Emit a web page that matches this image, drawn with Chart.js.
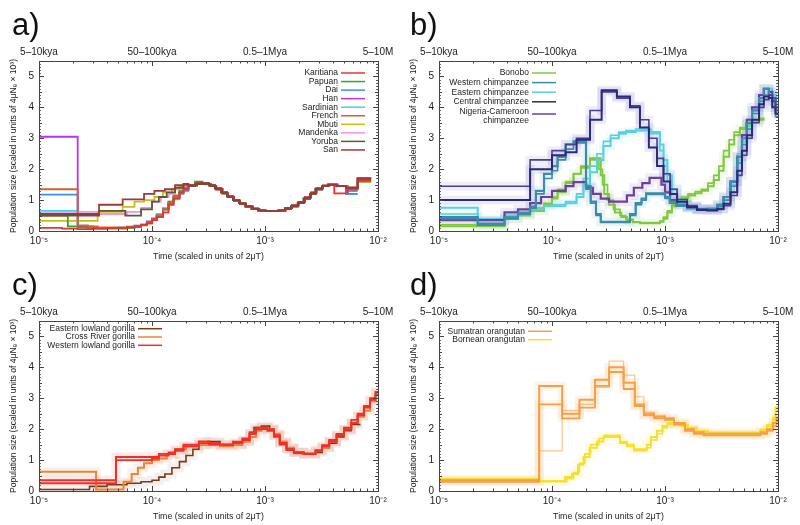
<!DOCTYPE html>
<html><head><meta charset="utf-8">
<script src="https://cdn.jsdelivr.net/npm/chart.js@4"></script>
<style>
html,body{margin:0;padding:0;background:#fff;}
#wrap{position:relative;width:800px;height:525px;overflow:hidden;}
canvas{position:absolute;}
</style></head><body>
<div id="wrap">
<canvas id="ca" width="400" height="262" style="left:0;top:0"></canvas>
<canvas id="cb" width="400" height="262" style="left:400px;top:0"></canvas>
<canvas id="cc" width="400" height="265" style="left:0;top:260px"></canvas>
<canvas id="cd" width="400" height="265" style="left:400px;top:260px"></canvas>
</div>
<script>
// ---------- axis labels ----------
const decades = [1e-5, 1e-4, 1e-3, 1e-2];
const bottomLabels = ['10⁻⁵', '10⁻⁴', '10⁻³', '10⁻²'];
const topLabels = ['5–10kya', '50–100kya', '0.5–1Mya', '5–10M'];
const yTicks = [0, 1, 2, 3, 4, 5];
const yTitle = 'Population size (scaled in units of 4μNₑ × 10³)';
const xTitle = 'Time (scaled in units of 2μT)';

// ---------- panel a: humans ([time, size]) ----------
const humanTail = [[2.1e-4,1.45],[2.4e-4,1.52],[2.8e-4,1.55],[3.2e-4,1.48],[3.6e-4,1.38],[4.1e-4,1.25],[4.6e-4,1.12],[5.2e-4,1.0],[5.9e-4,0.9],[6.7e-4,0.8],[7.6e-4,0.72],[8.7e-4,0.67],[1e-3,0.65],[1.15e-3,0.64],[1.3e-3,0.66],[1.5e-3,0.72],[1.7e-3,0.8],[1.95e-3,0.9],[2.2e-3,1.05],[2.5e-3,1.2],[2.8e-3,1.35],[3.2e-3,1.45],[3.6e-3,1.5]];
const humanTailB = [[2.1e-4,1.48],[2.5e-4,1.55],[2.9e-4,1.52],[3.3e-4,1.45],[3.7e-4,1.35],[4.2e-4,1.22],[4.7e-4,1.1],[5.3e-4,0.98],[6e-4,0.88],[6.8e-4,0.79],[7.8e-4,0.71],[8.9e-4,0.66],[1.02e-3,0.64],[1.18e-3,0.64],[1.33e-3,0.67],[1.52e-3,0.74],[1.73e-3,0.83],[1.98e-3,0.94],[2.25e-3,1.09],[2.55e-3,1.24],[2.85e-3,1.38],[3.25e-3,1.47],[3.7e-3,1.5]];
const endHigh = [[4.3e-3,1.45],[5.2e-3,1.4],[6.6e-3,1.7],[8.7e-3,1.7]];
const endRed = [[4.1e-3,1.22],[5.4e-3,1.38],[6.6e-3,1.65],[8.7e-3,1.65]];
const endBlue = [[4.4e-3,1.45],[5.2e-3,1.2],[6.6e-3,1.2]];
const endPurple = [[4.4e-3,1.45],[5.2e-3,1.3],[6.6e-3,1.3]];
const endMid = [[4.3e-3,1.45],[5.4e-3,1.35],[6.6e-3,1.6],[8.7e-3,1.6]];

const karitiana = [[1e-5,0.1],[1.6e-5,0.08],[2.2e-5,0.06],[3e-5,0.08],[4e-5,0.1],[6e-5,0.12],[7e-5,0.15],[8e-5,0.2],[9e-5,0.25],[1e-4,0.35],[1.1e-4,0.45],[1.25e-4,0.6],[1.4e-4,0.85],[1.55e-4,1.05],[1.75e-4,1.25],[1.9e-4,1.35]];
const papuan = [[1e-5,0.5],[1.8e-5,0.15],[2.2e-5,0.12],[2.7e-5,0.08],[6e-5,0.1],[7e-5,0.13],[8e-5,0.18],[9e-5,0.25],[1e-4,0.35],[1.1e-4,0.5],[1.25e-4,0.7],[1.4e-4,0.95],[1.55e-4,1.15],[1.75e-4,1.3],[1.9e-4,1.45],[2.4e-4,1.6]];
const dai = [[1e-5,1.18],[2.2e-5,0.15],[2.7e-5,0.12],[3.3e-5,0.1],[4.5e-5,0.1],[6e-5,0.12],[7e-5,0.15],[8e-5,0.2],[9e-5,0.3],[1e-4,0.4],[1.1e-4,0.5],[1.25e-4,0.7],[1.4e-4,0.9],[1.55e-4,1.1],[1.75e-4,1.2],[1.9e-4,1.3]];
const han = [[1e-5,3.05],[2.2e-5,0.15],[3e-5,0.1],[4e-5,0.1],[5e-5,0.1],[6e-5,0.12],[7e-5,0.15],[8e-5,0.2],[9e-5,0.3],[1e-4,0.4],[1.1e-4,0.5],[1.25e-4,0.7],[1.4e-4,0.9],[1.55e-4,1.05],[1.75e-4,1.25],[1.9e-4,1.35]];
const sardinian = [[1e-5,0.65],[2.2e-5,0.15],[2.7e-5,0.12],[3.3e-5,0.1],[5e-5,0.12],[6e-5,0.15],[7e-5,0.18],[8e-5,0.22],[9e-5,0.3],[1e-4,0.4],[1.1e-4,0.55],[1.25e-4,0.75],[1.4e-4,0.95],[1.55e-4,1.1],[1.75e-4,1.25],[1.9e-4,1.35]];
const french = [[1e-5,1.35],[2.2e-5,0.18],[2.7e-5,0.15],[3.3e-5,0.12],[4.5e-5,0.12],[6e-5,0.13],[7e-5,0.16],[8e-5,0.2],[9e-5,0.28],[1e-4,0.38],[1.1e-4,0.5],[1.25e-4,0.7],[1.4e-4,0.9],[1.55e-4,1.1],[1.75e-4,1.25],[1.9e-4,1.4]];
const mbuti = [[1e-5,0.33],[3.3e-5,0.62],[5.5e-5,0.78],[7e-5,0.95],[8.5e-5,1.0],[1.05e-4,1.1],[1.25e-4,1.25],[1.5e-4,1.35],[1.75e-4,1.45],[1.9e-4,1.45]];
const mandenka = [[1e-5,0.62],[3.4e-5,0.55],[6e-5,0.62],[8e-5,0.75],[1e-4,0.95],[1.2e-4,1.1],[1.4e-4,1.2],[1.6e-4,1.35],[1.9e-4,1.45]];
const yoruba = [[1e-5,0.55],[3.4e-5,0.65],[5.8e-5,0.5],[8e-5,0.7],[1e-4,0.95],[1.15e-4,1.1],[1.35e-4,1.25],[1.6e-4,1.4],[1.9e-4,1.5]];
const san = [[1e-5,0.5],[3.4e-5,0.85],[5.5e-5,1.02],[8.5e-5,1.2],[1.05e-4,1.3],[1.3e-4,1.35],[1.6e-4,1.48],[1.9e-4,1.52]];

// ---------- panel b: chimpanzees & bonobos ----------
const bonobo1 = [[1e-5,0.15],[3.8e-5,0.4],[5e-5,0.5],[6.4e-5,0.65],[8.5e-5,0.85],[1.0e-4,1.05],[1.12e-4,1.25],[1.32e-4,1.55],[1.55e-4,1.85],[1.8e-4,2.05],[2.17e-4,2.35],[2.7e-4,1.8],[2.9e-4,1.2],[3.2e-4,0.85],[3.6e-4,0.6],[4.1e-4,0.45],[4.6e-4,0.35],[5.2e-4,0.28],[6e-4,0.25],[9e-4,0.3],[9.7e-4,0.4],[1.05e-3,0.6],[1.15e-3,0.8],[1.25e-3,0.95],[1.4e-3,1.05],[1.6e-3,1.15],[1.85e-3,1.22],[2.1e-3,1.3],[2.4e-3,1.45],[2.7e-3,1.65],[3.0e-3,1.95],[3.3e-3,2.4],[3.7e-3,2.8],[4.1e-3,3.1],[4.6e-3,3.3],[5.2e-3,3.45],[5.9e-3,3.55],[6.8e-3,3.6],[7.6e-3,3.6]];
const bonobo2 = [[1e-5,0.2],[3.8e-5,0.45],[5e-5,0.55],[6.4e-5,0.7],[8.5e-5,0.9],[1.0e-4,1.1],[1.12e-4,1.35],[1.32e-4,1.6],[1.55e-4,1.85],[1.8e-4,2.1],[2.17e-4,2.3],[2.6e-4,2.0],[2.8e-4,1.5],[3.1e-4,1.0],[3.5e-4,0.7],[4e-4,0.5],[4.5e-4,0.38],[5.2e-4,0.3],[6e-4,0.27],[9e-4,0.32],[9.7e-4,0.45],[1.05e-3,0.65],[1.15e-3,0.85],[1.25e-3,1.0],[1.4e-3,1.1],[1.6e-3,1.2],[1.85e-3,1.28],[2.1e-3,1.35],[2.4e-3,1.55],[2.7e-3,1.8],[3.0e-3,2.1],[3.3e-3,2.6],[3.7e-3,2.95],[4.1e-3,3.2],[4.6e-3,3.35],[5.2e-3,3.5],[5.9e-3,3.6],[6.8e-3,3.65],[7.6e-3,3.65]];
const western1 = [[1e-5,0.45],[2.2e-5,0.2],[3.8e-5,0.4],[5e-5,0.55],[6.4e-5,0.75],[7.2e-5,1.3],[8.5e-5,1.85],[1.0e-4,2.1],[1.12e-4,2.4],[1.32e-4,2.8],[1.55e-4,2.9],[2.0e-4,1.45],[2.2e-4,0.95],[2.45e-4,0.55],[2.7e-4,0.3],[4.9e-4,0.55],[5.5e-4,0.9],[6.2e-4,1.05],[6.8e-4,1.22],[1.0e-3,1.1],[1.1e-3,0.95],[1.25e-3,0.85],[1.57e-3,0.75],[1.92e-3,0.72],[2.36e-3,0.72],[2.9e-3,0.85],[3.3e-3,1.1],[3.8e-3,1.6],[4.36e-3,2.4],[4.8e-3,3.0],[5.3e-3,3.5],[5.9e-3,3.9],[6.8e-3,4.3],[7.5e-3,4.6],[8.3e-3,4.4],[8.9e-3,4.2],[9.5e-3,4.0],[1e-2,4.0]];
const western2 = [[1e-5,0.4],[2.2e-5,0.25],[3.8e-5,0.45],[5e-5,0.6],[6.4e-5,0.8],[7.2e-5,1.2],[8.5e-5,1.7],[1.0e-4,1.95],[1.12e-4,2.3],[1.32e-4,2.65],[1.55e-4,2.85],[2.0e-4,1.35],[2.2e-4,0.9],[2.45e-4,0.5],[2.7e-4,0.28],[4.9e-4,0.5],[5.5e-4,0.85],[6.2e-4,1.0],[6.8e-4,1.18],[1.0e-3,1.05],[1.1e-3,0.9],[1.25e-3,0.8],[1.57e-3,0.72],[1.92e-3,0.68],[2.36e-3,0.7],[2.9e-3,0.8],[3.3e-3,1.0],[3.8e-3,1.45],[4.36e-3,2.2],[4.8e-3,2.8],[5.3e-3,3.3],[5.9e-3,3.8],[6.8e-3,4.2],[7.5e-3,4.4],[8.3e-3,4.3],[8.9e-3,4.0],[9.5e-3,3.7],[1e-2,3.7]];
const eastern1 = [[1e-5,0.75],[2.2e-5,0.35],[3.8e-5,0.5],[5e-5,0.6],[6.4e-5,0.7],[8.5e-5,0.8],[1.0e-4,0.85],[1.32e-4,0.9],[1.65e-4,1.1],[1.9e-4,1.5],[2.17e-4,1.9],[2.5e-4,2.3],[2.85e-4,2.75],[3.3e-4,3.0],[3.9e-4,3.15],[4.5e-4,3.2],[5.5e-4,3.25],[7.5e-4,3.2],[9e-4,2.8],[9.7e-4,2.3],[1.05e-3,1.8],[1.15e-3,1.35],[1.28e-3,1.0],[1.57e-3,0.8],[1.92e-3,0.7],[2.36e-3,0.7],[2.9e-3,0.8],[3.3e-3,1.0],[3.8e-3,1.5],[4.36e-3,2.3],[4.8e-3,2.9],[5.3e-3,3.4],[5.9e-3,3.9],[6.8e-3,4.3],[7.5e-3,4.6],[8.3e-3,4.6],[8.9e-3,4.4],[9.5e-3,4.3],[1e-2,4.3]];
const eastern2 = [[1e-5,0.55],[2.2e-5,0.4],[3.8e-5,0.5],[5e-5,0.6],[6.4e-5,0.75],[8.5e-5,0.8],[1.0e-4,0.8],[1.32e-4,0.95],[1.65e-4,1.2],[1.9e-4,1.7],[2.17e-4,2.1],[2.5e-4,2.5],[2.85e-4,2.9],[3.3e-4,3.1],[3.9e-4,3.2],[4.5e-4,3.25],[5.5e-4,3.3],[7.5e-4,3.15],[9e-4,2.6],[9.7e-4,2.1],[1.05e-3,1.6],[1.15e-3,1.2],[1.28e-3,0.95],[1.57e-3,0.78],[1.92e-3,0.7],[2.36e-3,0.72],[2.9e-3,0.85],[3.3e-3,1.1],[3.8e-3,1.6],[4.36e-3,2.5],[4.8e-3,3.1],[5.3e-3,3.6],[5.9e-3,4.0],[6.8e-3,4.4],[7.5e-3,4.6],[8.3e-3,4.5],[8.9e-3,4.4],[9.5e-3,4.3],[1e-2,4.3]];
const central1 = [[1e-5,1.0],[6.4e-5,2.0],[1.0e-4,2.45],[1.32e-4,2.55],[1.65e-4,2.95],[2.17e-4,3.6],[2.75e-4,4.55],[3.75e-4,4.35],[4.9e-4,4.0],[6e-4,3.35],[7.2e-4,2.7],[8.5e-4,2.1],[9.7e-4,1.6],[1.11e-3,1.2],[1.28e-3,0.95],[1.57e-3,0.78],[1.92e-3,0.68],[2.36e-3,0.66],[2.9e-3,0.72],[3.3e-3,0.88],[3.8e-3,1.25],[4.36e-3,1.95],[4.8e-3,2.6],[5.3e-3,3.1],[5.9e-3,3.6],[6.8e-3,4.1],[7.5e-3,4.35],[8.3e-3,4.3],[8.9e-3,4.0],[9.5e-3,3.8],[1e-2,3.8]];
const central2 = [[1e-5,1.45],[6.4e-5,2.3],[1.0e-4,2.6],[1.32e-4,2.8],[1.65e-4,3.0],[2.17e-4,3.9],[2.75e-4,4.5],[3.75e-4,4.3],[4.9e-4,4.05],[6e-4,3.6],[7.2e-4,3.0],[8.5e-4,2.35],[9.7e-4,1.85],[1.11e-3,1.35],[1.28e-3,1.02],[1.57e-3,0.82],[1.92e-3,0.7],[2.36e-3,0.68],[2.9e-3,0.7],[3.3e-3,0.82],[3.8e-3,1.15],[4.36e-3,1.8],[4.8e-3,2.45],[5.3e-3,3.0],[5.9e-3,3.5],[6.8e-3,4.0],[7.5e-3,4.25],[8.3e-3,4.4],[8.9e-3,4.2],[9.5e-3,3.9],[1e-2,3.9]];
const nigeria1 = [[1e-5,0.35],[3.8e-5,0.6],[5e-5,0.7],[6.4e-5,0.9],[8e-5,1.1],[1.0e-4,1.3],[1.32e-4,1.45],[1.55e-4,1.58],[2.0e-4,1.4],[2.3e-4,1.2],[2.7e-4,1.05],[3.2e-4,0.95],[4.6e-4,1.15],[5.3e-4,1.4],[6.3e-4,1.55],[7.3e-4,1.72],[9.3e-4,1.5],[1.0e-3,1.25],[1.11e-3,1.0],[1.28e-3,0.85],[1.57e-3,0.75],[1.92e-3,0.7],[2.36e-3,0.72],[2.9e-3,0.85],[3.3e-3,1.1],[3.8e-3,1.6],[4.36e-3,2.4],[4.8e-3,3.1],[5.3e-3,3.6],[5.9e-3,4.0],[6.8e-3,4.4],[7.5e-3,4.6],[8.3e-3,4.5],[8.9e-3,4.3],[9.5e-3,4.0],[1e-2,4.0]];

// ---------- panel c: gorillas ----------
const eastLowland = [[1e-5,0.05],[2.8e-5,0.15],[4e-5,0.2],[6e-5,0.25],[8e-5,0.3],[1.0e-4,0.35],[1.15e-4,0.45],[1.3e-4,0.55],[1.5e-4,0.75],[1.75e-4,0.95],[2.0e-4,1.15],[2.3e-4,1.35],[2.6e-4,1.5],[3.1e-4,1.6],[4e-4,1.5],[5.2e-4,1.5],[6.3e-4,1.6],[7.3e-4,1.85],[8e-4,2.05],[9.3e-4,2.1],[1.1e-3,2.0],[1.2e-3,1.8],[1.35e-3,1.55],[1.55e-3,1.38],[1.8e-3,1.25],[2.2e-3,1.2],[2.8e-3,1.25],[3.2e-3,1.4],[3.7e-3,1.55],[4.3e-3,1.75],[5e-3,1.95],[5.8e-3,2.15],[7e-3,2.15]];
const crossRiver = [[1e-5,0.62],[3.2e-5,0.05],[5.6e-5,0.3],[6.6e-5,0.55],[7.5e-5,0.75],[8.5e-5,0.9],[1.0e-4,1.0],[1.15e-4,1.05],[1.35e-4,1.2],[1.6e-4,1.35],[2.0e-4,1.45],[2.6e-4,1.5],[3.2e-4,1.5],[4e-4,1.45],[5.2e-4,1.5],[6.3e-4,1.6],[7.3e-4,1.75],[8.3e-4,1.95],[9.3e-4,2.05],[1.05e-3,2.0],[1.2e-3,1.85],[1.35e-3,1.6],[1.55e-3,1.4],[1.8e-3,1.25],[2.2e-3,1.2],[2.8e-3,1.3],[3.2e-3,1.4],[3.7e-3,1.6],[4.3e-3,1.8],[5e-3,2.0],[5.8e-3,2.2],[6.6e-3,2.4],[7.5e-3,2.6],[8.5e-3,2.9],[9.5e-3,3.15],[1e-2,3.15]];
const westLowland1 = [[1e-5,0.35],[4.8e-5,1.1],[1.0e-4,1.05],[1.15e-4,1.15],[1.4e-4,1.2],[1.6e-4,1.3],[1.9e-4,1.45],[2.6e-4,1.6],[3.2e-4,1.55],[4e-4,1.5],[5.2e-4,1.55],[6.3e-4,1.65],[7.3e-4,1.85],[8.3e-4,2.0],[9.3e-4,2.05],[1.05e-3,2.0],[1.2e-3,1.8],[1.35e-3,1.55],[1.55e-3,1.35],[1.8e-3,1.25],[2.2e-3,1.2],[2.8e-3,1.3],[3.2e-3,1.45],[3.7e-3,1.6],[4.3e-3,1.8],[5e-3,2.0],[5.8e-3,2.2],[6.6e-3,2.45],[7.5e-3,2.7],[8.5e-3,2.95],[9.5e-3,3.2],[1e-2,3.2]];
const westLowland2 = [[1e-5,0.25],[4.8e-5,1.0],[1.0e-4,1.1],[1.15e-4,1.2],[1.4e-4,1.25],[1.6e-4,1.35],[1.9e-4,1.5],[2.6e-4,1.55],[3.2e-4,1.5],[4e-4,1.5],[5.2e-4,1.6],[6.3e-4,1.7],[7.3e-4,1.9],[8.3e-4,2.05],[9.3e-4,2.0],[1.05e-3,1.95],[1.2e-3,1.75],[1.35e-3,1.5],[1.55e-3,1.32],[1.8e-3,1.22],[2.2e-3,1.22],[2.8e-3,1.32],[3.2e-3,1.48],[3.7e-3,1.65],[4.3e-3,1.85],[5e-3,2.05],[5.8e-3,2.3],[6.6e-3,2.5],[7.5e-3,2.75],[8.5e-3,3.0],[9.5e-3,3.1],[1e-2,3.1]];

// ---------- panel d: orangutans ----------
const sumatran1 = [[1e-5,0.35],[7.7e-5,3.4],[1.23e-4,2.5],[1.75e-4,2.95],[2.4e-4,3.6],[3.2e-4,4.0],[4.3e-4,3.5],[5.4e-4,2.8],[6.5e-4,2.5],[8e-4,2.4],[1e-3,2.35],[1.2e-3,2.2],[1.5e-3,2.0],[1.8e-3,1.9],[2.2e-3,1.85],[7e-3,1.9],[8e-3,2.0],[9e-3,2.2],[9.7e-3,2.35],[1e-2,2.35]];
const sumatran2 = [[1e-5,0.3],[7.7e-5,2.8],[1.23e-4,2.35],[1.75e-4,2.7],[2.4e-4,3.4],[3.2e-4,3.85],[4.3e-4,3.3],[5.4e-4,2.75],[6.5e-4,2.45],[8e-4,2.35],[1e-3,2.3],[1.2e-3,2.15],[1.5e-3,1.95],[1.8e-3,1.85],[2.2e-3,1.8],[7e-3,1.85],[8e-3,1.95],[9e-3,2.1],[9.7e-3,2.3],[1e-2,2.3]];
const sumatran3 = [[1e-5,0.4],[7.7e-5,1.3],[1.23e-4,2.6],[1.75e-4,2.8],[2.4e-4,3.35],[3.2e-4,4.2],[4.3e-4,3.75],[5.4e-4,3.05],[6.5e-4,2.55],[8e-4,2.45],[1e-3,2.4]];
const bornean1 = [[1e-5,0.4],[7.7e-5,0.32],[1.3e-4,0.45],[1.5e-4,0.55],[1.7e-4,0.85],[1.9e-4,1.1],[2.15e-4,1.4],[2.5e-4,1.6],[2.85e-4,1.75],[4e-4,1.55],[4.6e-4,1.45],[5.3e-4,1.35],[6.9e-4,1.5],[7.5e-4,1.75],[8.5e-4,1.95],[9.5e-4,2.1],[1.05e-3,2.2],[1.37e-3,2.1],[1.6e-3,2.0],[1.9e-3,1.92],[2.4e-3,1.88],[5e-3,1.88],[7e-3,1.95],[8e-3,2.1],[9e-3,2.35],[9.5e-3,2.7],[1e-2,2.7]];
const bornean2 = [[1e-5,0.35],[7.7e-5,0.3],[1.35e-4,0.4],[1.55e-4,0.6],[1.75e-4,0.9],[1.95e-4,1.2],[2.2e-4,1.5],[2.6e-4,1.7],[2.9e-4,1.8],[4e-4,1.6],[4.6e-4,1.5],[5.3e-4,1.3],[6.9e-4,1.4],[7.5e-4,1.65],[8.5e-4,1.85],[9.5e-4,2.05],[1.05e-3,2.15],[1.37e-3,2.15],[1.6e-3,2.05],[1.9e-3,1.95],[2.4e-3,1.9],[5e-3,1.9],[7e-3,2.0],[8e-3,2.15],[9e-3,2.3],[9.5e-3,2.6],[1e-2,2.6]];

// ---------- styling ----------
const FONT = '"Liberation Sans", Arial, Helvetica, sans-serif';
Chart.defaults.font.family = FONT;
Chart.defaults.font.size = 9;
Chart.defaults.color = '#222';

function ln(data, color, width) {
  return { data: data.map(p => ({x: p[0], y: p[1]})), borderColor: color, borderWidth: width || 1.5,
    stepped: true, pointRadius: 0, fill: false, tension: 0 };
}

const decorPlugin = {
  id: 'decor',
  afterDraw(chart, args, o) {
    const ctx = chart.ctx, a = chart.chartArea, xs = chart.scales.x, ys = chart.scales.y;
    ctx.save();
    ctx.strokeStyle = '#444'; ctx.lineWidth = 1;
    ctx.strokeRect(Math.round(a.left) + 0.5, Math.round(a.top) + 0.5, Math.round(a.right - a.left), Math.round(a.bottom - a.top));
    ctx.beginPath();
    for (let e = -5; e <= -3; e++) {
      for (let m = 1; m <= 9; m++) {
        const px = Math.round(xs.getPixelForValue(m * Math.pow(10, e))) + 0.5;
        const len = m === 1 ? 5 : 2.5;
        ctx.moveTo(px, a.bottom); ctx.lineTo(px, a.bottom - len);
        ctx.moveTo(px, a.top); ctx.lineTo(px, a.top + len);
      }
    }
    for (let k = 0; k <= 55; k++) {
      const py = Math.round(ys.getPixelForValue(k / 10)) + 0.5;
      const len = k % 10 === 0 ? 5 : (k % 5 === 0 ? 3 : 1.8);
      ctx.moveTo(a.left, py); ctx.lineTo(a.left + len, py);
      ctx.moveTo(a.right, py); ctx.lineTo(a.right - len, py);
    }
    ctx.stroke();
    // panel label
    ctx.fillStyle = '#111';
    ctx.font = '31px "Liberation Sans", Arial, sans-serif';
    ctx.textAlign = 'left'; ctx.textBaseline = 'alphabetic';
    ctx.fillText(o.label, o.lx, o.ly);
    // legend
    const L = o.legend;
    ctx.font = '8.5px ' + FONT;
    ctx.textAlign = 'right'; ctx.textBaseline = 'middle';
    L.items.forEach(it => {
      ctx.fillStyle = '#222';
      it.t.forEach((s, i) => ctx.fillText(s, L.xr, it.y + i * L.dy));
      ctx.strokeStyle = it.c; ctx.lineWidth = 1.5;
      ctx.beginPath(); ctx.moveTo(L.xr + 3, it.ly); ctx.lineTo(L.xr + 27, it.ly); ctx.stroke();
    });
    ctx.restore();
  }
};

// datasets are listed bottom-to-top; Chart.js draws the first dataset on top, so reverse.
function makeChart(id, datasets, decor) {
  const common = {
    type: 'logarithmic', min: 1e-5, max: 1e-2,
    afterBuildTicks: s => { s.ticks = decades.map(v => ({value: v})); },
    grid: {display: false, drawTicks: false}, border: {display: false}
  };
  return new Chart(document.getElementById(id), {
    type: 'line',
    data: {datasets: datasets.slice().reverse()},
    options: {
      responsive: false, animation: false, devicePixelRatio: 1,
      layout: {padding: {top: 41, right: 22, left: 0, bottom: decor.padBottom}},
      plugins: {legend: {display: false}, tooltip: {enabled: false}, decor},
      scales: {
        x: Object.assign({}, common, {
          position: 'bottom',
          afterFit: s => { s.height = 31; },
          ticks: {callback: (v, i) => bottomLabels[i], padding: 4, maxRotation: 0, autoSkip: false, color: '#222', font: {size: 10}},
          title: {display: true, text: xTitle, color: '#222', font: {size: 8.8}, padding: {top: 4, bottom: 0}}
        }),
        x2: Object.assign({}, common, {
          position: 'top',
          afterFit: s => { s.height = 20; },
          ticks: {callback: (v, i) => topLabels[i], padding: 3, maxRotation: 0, autoSkip: false, color: '#222', font: {size: 10}}
        }),
        y: {
          type: 'linear', min: 0, max: 5.5,
          afterBuildTicks: s => { s.ticks = yTicks.map(v => ({value: v})); },
          afterFit: s => { s.width = 39; },
          grid: {display: false, drawTicks: false}, border: {display: false},
          ticks: {padding: 5, color: '#222', font: {size: 10}, callback: v => String(v)},
          title: {display: true, text: yTitle, color: '#222', font: {size: 8.6}, padding: {top: 8, bottom: 0}}
        }
      }
    },
    plugins: [decorPlugin]
  });
}

// ---------- panel a ----------
const cA = {karitiana:'#f0302f', papuan:'#22b022', dai:'#3b8ff0', han:'#c030e8', sardinian:'#38d8e8', french:'#d0642a', mbuti:'#c8c010', mandenka:'#f590e8', yoruba:'#5a5a3a', san:'#a03838'};
makeChart('ca', [
  ln(sardinian.concat(humanTail, endBlue), cA.sardinian, 1.8),
  ln(dai.concat(humanTailB, endBlue), cA.dai, 1.8),
  ln(han.concat(humanTail, endPurple), cA.han, 1.8),
  ln(mbuti.concat(humanTailB, endMid), cA.mbuti, 1.8),
  ln(papuan.concat(humanTail.slice(2), endMid), cA.papuan, 1.8),
  ln(mandenka.concat(humanTailB, endHigh), cA.mandenka, 1.8),
  ln(french.concat(humanTail, endHigh), cA.french, 1.8),
  ln(karitiana.concat(humanTailB, endRed), cA.karitiana, 1.8),
  ln(yoruba.concat(humanTail, endHigh), cA.yoruba, 1.8),
  ln(san.concat(humanTailB, endHigh), cA.san, 1.8)
], {label: 'a)', lx: 12, ly: 34.5, padBottom: 0, legend: {xr: 338, dy: 8.55, items: [
  ['Karitiana', cA.karitiana], ['Papuan', cA.papuan], ['Dai', cA.dai], ['Han', cA.han], ['Sardinian', cA.sardinian],
  ['French', cA.french], ['Mbuti', cA.mbuti], ['Mandenka', cA.mandenka], ['Yoruba', cA.yoruba], ['San', cA.san]
].map((d, i) => ({t: [d[0]], c: d[1], y: 73 + i * 8.55, ly: 73 + i * 8.55}))}});

// ---------- panel b ----------
const cB = {bonobo:'#80c840', western:'#3a8caa', eastern:'#58d0e0', central:'#2a2a78', nigeria:'#6c40a0'};
const band = (d, c) => ln(d, c, 9);
makeChart('cb', [
  band(central1, 'rgba(110,100,200,0.13)'), band(central2, 'rgba(140,120,210,0.13)'),
  band(western1, 'rgba(58,140,170,0.10)'), band(eastern1, 'rgba(88,208,224,0.10)'),
  band(bonobo1, 'rgba(128,200,64,0.10)'), band(nigeria1, 'rgba(108,64,160,0.10)'),
  ln(bonobo2, cB.bonobo, 1.6), ln(bonobo1, cB.bonobo, 2),
  ln(eastern2, cB.eastern, 1.6), ln(eastern1, cB.eastern, 2),
  ln(nigeria1, cB.nigeria, 2.2),
  ln(western2, cB.western, 1.6), ln(western1, cB.western, 2.2),
  ln(central2, '#4a3f95', 1.6), ln(central1, cB.central, 2)
], {label: 'b)', lx: 10, ly: 34.5, padBottom: 0, legend: {xr: 129, dy: 9.6, items: [
  {t: ['Bonobo'], c: cB.bonobo, y: 73, ly: 73},
  {t: ['Western chimpanzee'], c: cB.western, y: 82.6, ly: 82.6},
  {t: ['Eastern chimpanzee'], c: cB.eastern, y: 92.2, ly: 92.2},
  {t: ['Central chimpanzee'], c: cB.central, y: 101.8, ly: 101.8},
  {t: ['Nigeria-Cameroon', 'chimpanzee'], c: cB.nigeria, y: 111.4, ly: 114}
]}});

// ---------- panel c ----------
const cC = {east:'#7a3a18', cross:'#e8843c', west:'#f03028'};
makeChart('cc', [
  band(crossRiver, 'rgba(232,132,60,0.12)'), band(westLowland1, 'rgba(240,48,40,0.10)'), band(eastLowland, 'rgba(122,58,24,0.08)'),
  ln(eastLowland, cC.east, 1.6), ln(crossRiver, cC.cross, 2),
  ln(westLowland2, cC.west, 1.8), ln(westLowland1, cC.west, 2)
], {label: 'c)', lx: 12, ly: 35, padBottom: 3, legend: {xr: 135, dy: 8.3, items: [
  {t: ['Eastern lowland gorilla'], c: cC.east, y: 68.7, ly: 68.7},
  {t: ['Cross River gorilla'], c: cC.cross, y: 77, ly: 77},
  {t: ['Western lowland gorilla'], c: cC.west, y: 85.3, ly: 85.3}
]}});

// ---------- panel d ----------
const cD = {sum:'#f5a045', bor:'#f5e030'};
makeChart('cd', [
  band(sumatran1, 'rgba(245,160,69,0.12)'), band(sumatran2, 'rgba(245,160,69,0.10)'), band(bornean1, 'rgba(245,224,48,0.12)'),
  ln(sumatran3, 'rgba(245,160,69,0.6)', 1.2),
  ln(bornean2, cD.bor, 1.6), ln(bornean1, cD.bor, 2),
  ln(sumatran2, cD.sum, 1.8), ln(sumatran1, cD.sum, 2)
], {label: 'd)', lx: 10, ly: 35, padBottom: 3, legend: {xr: 125, dy: 8.4, items: [
  {t: ['Sumatran orangutan'], c: cD.sum, y: 71.3, ly: 71.3},
  {t: ['Bornean orangutan'], c: cD.bor, y: 79.7, ly: 79.7}
]}});
</script>
</body></html>
